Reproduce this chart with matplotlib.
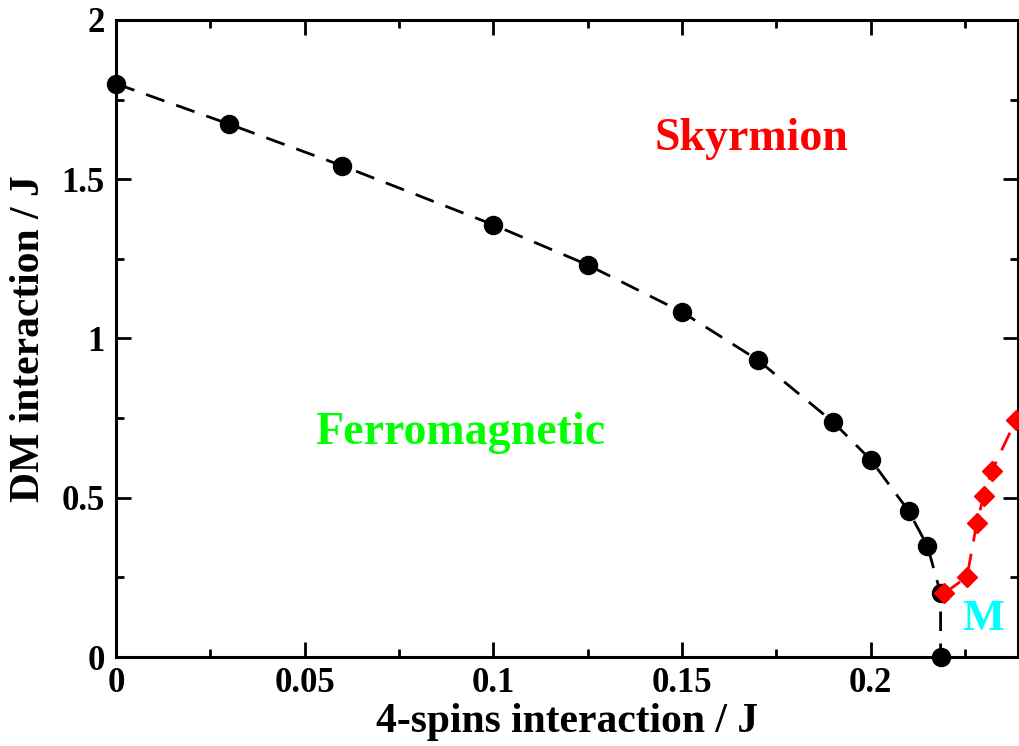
import matplotlib
matplotlib.use("Agg")
import matplotlib.pyplot as plt
from matplotlib.ticker import MultipleLocator

# Data
ferro_x = [0.0, 0.03, 0.06, 0.10, 0.125, 0.15, 0.17, 0.19, 0.20, 0.21, 0.215, 0.2185, 0.2185]
ferro_y = [1.80, 1.673, 1.542, 1.357, 1.231, 1.083, 0.933, 0.738, 0.619, 0.459, 0.349, 0.20, 0.0]
sky_x = [0.2195, 0.2255, 0.2281, 0.2299, 0.2321, 0.2385, 0.2450]
sky_y = [0.200, 0.252, 0.422, 0.504, 0.585, 0.745, 0.90]

xticks = [0, 0.05, 0.1, 0.15, 0.2]
xticklabels = ["0", "0.05", "0.1", "0.15", "0.2"]
yticks = [0, 0.5, 1, 1.5, 2]
yticklabels = ["0", "0.5", "1", "1.5", "2"]

plt.rcParams['font.family'] = ['Liberation Serif', 'DejaVu Serif']
plt.rcParams['font.weight'] = 'bold'

fig = plt.figure(figsize=(10.2, 7.46), dpi=100)
ax = fig.add_axes([0.1137, 0.1193, 0.8843, 0.8539])

ax.plot(ferro_x, ferro_y, color='black', linestyle=(0, (7, 4.5)), linewidth=2.0,
        marker='o', markersize=13, markerfacecolor='black', markeredgecolor='black',
        clip_on=False, zorder=3)
ax.plot(sky_x, sky_y, color='red', linestyle=(0, (7, 4.5)), linewidth=2.0,
        marker='D', markersize=10, markerfacecolor='red', markeredgecolor='red',
        zorder=3)

ax.set_xlim(0, 0.239)
ax.set_ylim(0, 2)

ax.set_xticks(xticks)
ax.set_xticklabels(xticklabels)
ax.set_yticks(yticks)
ax.set_yticklabels(yticklabels)
ax.xaxis.set_minor_locator(MultipleLocator(0.025))
ax.yaxis.set_minor_locator(MultipleLocator(0.25))

ax.tick_params(which='both', direction='in', top=True, right=True, width=2.0,
               labelsize=25)
ax.tick_params(axis='x', which='major', pad=7)
ax.tick_params(axis='y', which='major', pad=8)
ax.tick_params(which='major', length=11)
ax.tick_params(which='minor', length=6)
for s in ax.spines.values():
    s.set_linewidth(2.2)
for lab in ax.get_xticklabels() + ax.get_yticklabels():
    lab.set_fontweight('bold')

ax.set_xlabel("4-spins interaction / J", fontsize=30, fontweight='bold')
ax.set_ylabel("DM interaction / J", fontsize=30, fontweight='bold')
ax.xaxis.label.set_va('baseline')
ax.xaxis.set_label_coords(0.5, -0.1177)
ax.yaxis.set_label_coords(-0.075, 0.5)

ax.text(0.1684, 1.592, "Skyrmion", color='red', fontsize=33, fontweight='bold',
        ha='center', va='baseline')
ax.text(0.0912, 0.669, "Ferromagnetic", color='#00ff00', fontsize=33, fontweight='bold',
        ha='center', va='baseline')
ax.text(0.2298, 0.085, "M", color='cyan', fontsize=32, fontweight='bold',
        ha='center', va='baseline')

fig.savefig("out.png", dpi=100)
